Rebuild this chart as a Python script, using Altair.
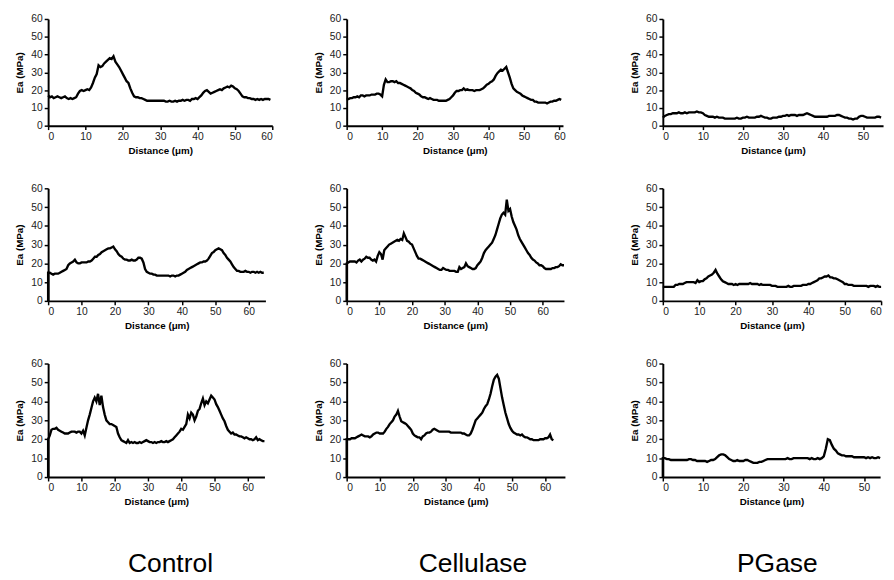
import altair as alt
import pandas as pd

# ---------------- data (Ea in MPa, sampled every 0.5 µm) ----------------
control_1 = [17,16,16.5,15.5,16,16.5,16,15.5,16,16.5,15.5,15,15.5,15,15.5,16,
             18,19.5,20,19.5,20,20.5,20,21.5,
             24,27,29,34,33,33.5,35,36,37,38,37.5,39,
             36,34.5,33,31,29,27,25,24,21,18.5,16.5,16,
             16,15.5,15.5,15,14.5,14,14,14,14,14,14,14,14,14,14,13.5,13.5,14,13.5,13.5,
             14,13.5,14,14,14.5,14,14.5,14.5,14,15,15,15.5,
             15,16,17,18.5,19.5,20,19,18,18.5,19,19.5,20,
             20.5,20,21,21.5,22,21.5,22.5,22,21,20.5,19.5,18,
             16.5,16,16,15.5,15.5,15,15,14.5,15,14.5,15,14.5,15,15,15,14.5]
cellulase_1 = [15,15,15.5,15.5,16,16,16.5,16,17,17,
               16.5,17,17,17,17.5,17.5,17.5,18,18,17.5,
               16.5,23,26,24.5,
               24.5,25,25,24.5,25,24,24,23.5,
               23,22.5,22,21.5,21,20,19.5,18.5,
               18,17.5,16.5,16,16,15.5,15,15.5,15,14.5,
               14.5,14.5,14,14,14,14,14,14.5,15,16,
               17,18.5,19.5,19.5,20,20,21,20,20.5,20,
               20,20,19.5,20,20,20,20.5,21,22,23,
               23.5,24.5,25,26,28,29.5,30.5,31.5,31,32,
               33,30,27,23.5,21,20,19,18.5,18,17,
               16.5,16,15.5,15,14.5,14.5,13.5,13.5,13,13,
               13,13,13,12.5,13,13.5,13.5,14,14,14.5,15,14.5]
pgase_1 = [4.5,5.5,6,6.5,6.5,7,7,7,7.5,7,
           7,7.5,7,7.5,7.5,7.5,7.5,8,7.5,7.5,
           7,6,5.5,5,5,5,4.5,5,4.5,4.5,
           4.5,4,4,4,4,4,4,4.5,4,4,
           4.5,4.5,5,4.5,4.5,4.5,4.5,5,5,5.5,
           5,4.5,4.5,4,4,4.5,4.5,4.5,5,5,
           5.5,5.5,6,5.5,6,6,6,5.5,6,6,
           6,6.5,7,6.5,6,5.5,5,5,5,5,
           5,5,5,5.5,5.5,5.5,5.5,6,6,5.5,
           5,4.5,4.5,4,4,3.5,4,4,5,5.5,
           5.5,5,4.5,4.5,4.5,4.5,4.5,5,5,4.5]
control_2 = [15,15,14.5,14,14.5,14.5,14.5,15,15.5,16,
             16.5,17,19,20,20.5,21,22,20.5,20,20,
             20.5,20.5,20.5,20.5,21,21,21.5,22.5,23.5,23.5,
             24.5,25,26,26.5,27,27.5,28,28,28.5,29,
             27.5,26.5,25,24,23.5,22.5,22,22,21.5,21.5,
             22,21.5,21.5,22,23,23,22.5,20.5,17,15.5,
             15,14.5,14.5,14,14,13.5,13.5,13.5,13.5,13.5,
             13.5,13.5,13.5,13,13.5,13.5,13,13.5,13.5,14,
             14.5,15,15.5,16.5,17,17.5,18,18.5,19,19.5,
             20,20.5,20.5,21,21,21.5,22.5,24,25.5,26,
             27,27.5,28,27.5,27,25.5,24.5,23,22,21,
             19.5,18,17,16,16,15.5,15.5,15.5,16,15.5,
             15.5,15,15.5,15.5,15,15.5,15,15.5,15,15]
cellulase_2 = [20,20.5,21,21,21,21,20.5,21.5,22,21,
               22,22.5,23.5,23,23,22,21.5,22,21,24,
               26,25,22,27,28,29,30,30.5,31,31.5,
               32,32.5,32,33,32.5,36,34,32,31.5,30.5,
               30,28,26,24,22.5,22.5,22,21.5,21,20.5,
               20,19.5,19,18.5,18,17.5,17,16.5,16.5,17.5,
               17,16.5,16.5,16,16,16,16,15.5,15.5,18,
               17,17.5,18,20,18.5,18,17.5,17,17,17.5,
               19,20,21,23,25.5,27,28,29,30,31,
               33,35,38,41,44,46,47,46,54,48,
               49,45,42,40,38,35,33,31.5,30,28.5,
               27,25.5,24.5,23,22,21.5,20.5,20,19,19,
               18.5,17.5,17,17,17,17,17.5,17.5,18,18,
               18.5,19.5,19,19]
pgase_2 = [7.5,7.5,7.5,7.5,7.5,7.5,7.5,8.5,8.5,9,
           9,9,9.5,10,10,10,10,10,9.5,11,
           10,10.5,10.5,11.5,12,13,13.5,14,15,16.5,
           14.5,13,11.5,10.5,10,9.5,9,9,9,8.5,
           9,8.5,9,9,9,9,9,9,9.5,9,
           9,9,9,8.5,9,8.5,8.5,8.5,8.5,8.5,
           8,8,8,7.5,7.5,7.5,7.5,7.5,7.5,8,
           7.5,7.5,8,8,8,8,8,8.5,8.5,8.5,
           9,9,9.5,10,10.5,11,12,12,12.5,13,
           13,13.5,12.5,12.5,12,12,11.5,11,10.5,10,
           9,9,8.5,8.5,8.5,8,8,8,8,8,
           8,8,8,7.5,8,8,8,7.5,8,7.5,
           7.5]
control_3 = [20,22,25,25.5,25.5,26,25,24.5,24,23.5,
             23,23,23,23.5,24,24,24,23.5,24,24,
             23,24.5,22,26,30,33,36.5,40,42,40,
             44,38,43,37,33,30,29,28,28,27.5,
             27,26.5,23,21,19.5,19,18.5,18,19.5,18,
             18.5,18,18.5,18,18,18.5,18,18.5,19,19.5,
             19,18.5,18.5,18,18.5,18,18.5,18.5,19,18.5,
             18.5,19,18.5,19,19.5,20,21,22,23,24,
             25.5,25,26.5,28,33,31,34,33,30,32,
             35,36,39,41.5,38,40,39,41,43,42,
             41,38.5,37,35,33,31,29.5,27,25,24,
             23,23.5,22.5,22.5,22,21.5,21.5,21,20.5,21,
             20.5,20,20,19.5,20,21,19.5,20,19.5,19,
             19]
cellulase_3 = [20,20,20,20.5,20.5,20.5,21,21.5,22,22.5,
               22,21.5,21.5,21.5,21,21.5,22.5,23,23.5,23.5,
               23,23,23,24,25.5,26.5,28,29,30,32,
               33,35,32,29.5,29,28.5,28,27,26,25,
               23,22,21.5,21,21,20,21.5,22,23,23.5,
               23.5,24,25,25.5,25,24.5,24,24,24,24,
               24,24,24,23.5,23.5,23.5,23.5,23.5,23.5,23.5,
               23,23,22.5,22,22,23,25,27.5,30,31,
               32,33,34,36,37.5,38.5,41,44,48,51.5,
               53,54,52,47,42,38,34,31,28,26,
               24.5,23.5,23,22.5,22.5,22,22.5,21.5,21,21,
               20.5,20,20,19.5,19.5,19.5,19.5,20,20,20,
               20.5,20.5,21,22.5,20,19.5]
pgase_3 = [10,10,9.5,9.5,9,9,9,9,9,9,
           9,9,9,9.5,9.5,9,9,8.5,8.5,8.5,
           8.5,8.5,8,8.5,9,9,9.5,10.5,11.5,12,
           12,11.5,10.5,9.5,9,8.5,8.5,9,8.5,8.5,
           8.5,9,9,8.5,8,7.5,7.5,7.5,8,8,
           8.5,9,9.5,9.5,9.5,9.5,9.5,9.5,9.5,9.5,
           9.5,9.5,10,9.5,9.5,10,10,10,10,10,
           10,10,10,9.5,10,9.5,9.5,10,9.5,10,
           11,15,20,19.5,17,15,14,12.5,12,11.5,
           11.5,11,11,11,11,10.5,10.5,10.5,10.5,10.5,
           10.5,10,10.5,10,10.5,10,10,10.5,10]

step_um = 0.5
treatments = ["Control", "Cellulase", "PGase"]
series_rows = [[control_1, cellulase_1, pgase_1],
               [control_2, cellulase_2, pgase_2],
               [control_3, cellulase_3, pgase_3]]
# traces that rise from Ea = 0 at the origin
starts_at_zero = [[False, False, False],
                  [True, True, False],
                  [True, True, True]]
x_max = [[60, 61, 55], [65, 66.5, 60], [65, 66, 54]]
x_ticks = [[list(range(0, 61, 10)), list(range(0, 61, 10)), list(range(0, 51, 10))],
           [list(range(0, 61, 10)), list(range(0, 61, 10)), list(range(0, 61, 10))],
           [list(range(0, 61, 10)), list(range(0, 61, 10)), list(range(0, 51, 10))]]
y_ticks = [0, 10, 20, 30, 40, 50, 60]

# ---------------- layout ----------------
widths = [[229, 221, 225], [222, 222, 223], [221, 223, 222]]
heights = [109, 115, 116]
FONT = "Liberation Sans"


def panel(vals, zero_start, xmax, xt, w, h):
    xs = [i * step_um for i in range(len(vals))]
    ys = list(vals)
    if zero_start:
        xs = [0.0] + xs
        ys = [0.0] + ys
    df = pd.DataFrame({"d": xs, "ea": ys, "o": list(range(len(xs)))})
    return alt.Chart(df).mark_line(color="black", strokeWidth=2.4).encode(
        x=alt.X("d:Q", scale=alt.Scale(domain=[0, xmax], nice=False, zero=True),
                axis=alt.Axis(values=xt, title="Distance (μm)")),
        y=alt.Y("ea:Q", scale=alt.Scale(domain=[0, 60], nice=False),
                axis=alt.Axis(values=y_ticks, title="Ea (MPa)")),
        order="o:Q",
    ).properties(width=w, height=h)


cells = []
for r in range(3):
    for c in range(3):
        cells.append(panel(series_rows[r][c], starts_at_zero[r][c], x_max[r][c],
                           x_ticks[r][c], widths[r][c], heights[r]))

label_widths = [229, 247, 225]
label_x = [125, 129, 117]
for c in range(3):
    cells.append(
        alt.Chart(pd.DataFrame({"label": [treatments[c]]}))
        .mark_text(fontSize=27, font=FONT, color="black")
        .encode(text="label:N", x=alt.value(label_x[c]), y=alt.value(25))
        .properties(width=label_widths[c], height=38)
    )

chart = (
    alt.concat(*cells, columns=3, bounds="flush", spacing={"row": 64, "column": 76})
    .properties(padding={"left": 7, "top": 0, "right": 0, "bottom": 0})
    .configure_view(stroke=None)
    .configure_axis(
        grid=False,
        domainColor="black", domainWidth=2,
        tickColor="black", tickWidth=1.5, tickSize=4,
        labelFont=FONT, labelFontSize=10.5, labelColor="#222222", labelPadding=2,
        titleFont=FONT, titleFontSize=10, titleFontWeight="bold", titleColor="black",
    )
    .configure_axisY(titlePadding=6)
    .configure_axisX(titlePadding=4)
)

chart.save("out.html", embed_options={"renderer": "svg", "actions": False})
